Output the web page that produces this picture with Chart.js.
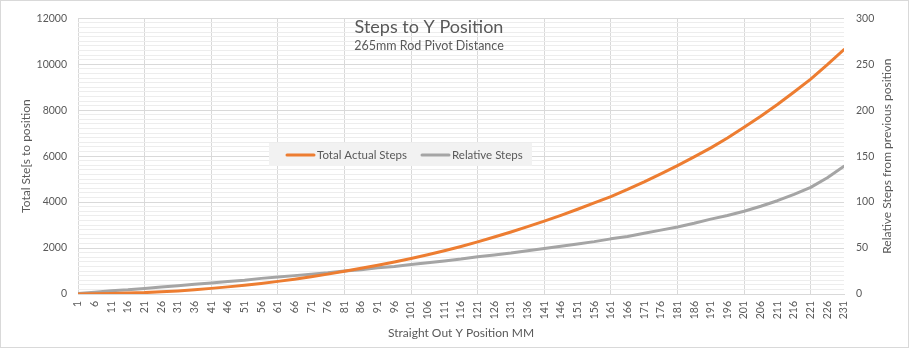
<!DOCTYPE html>
<html>
<head>
<meta charset="utf-8">
<script src="https://cdn.jsdelivr.net/npm/chart.js@4/dist/chart.umd.min.js"></script>
<style>
  html, body { margin: 0; padding: 0; background: #fff; }
  #wrap { width: 911px; height: 348px; }
</style>
</head>
<body>
<div id="wrap"><canvas id="chart" width="911" height="348"></canvas></div>
<script>
// Y position (mm), labelled every 5 on the axis
const positions = [1, 6, 11, 16, 21, 26, 31, 36, 41, 46, 51, 56, 61, 66, 71, 76, 81, 86, 91, 96,
    101, 106, 111, 116, 121, 126, 131, 136, 141, 146, 151, 156, 161, 166, 171, 176, 181, 186, 191, 196,
    201, 206, 211, 216, 221, 226, 231];

const totalSteps = [0, 10, 25, 42, 60, 95, 135, 185, 245, 310, 380, 460, 550, 645, 750, 865, 990, 1120, 1255, 1395,
    1545, 1710, 1885, 2070, 2270, 2480, 2700, 2930, 3170, 3425, 3690, 3965, 4240, 4550, 4880, 5230, 5590, 5965, 6360, 6790,
    7260, 7740, 8250, 8790, 9350, 9980, 10640];

const relativeSteps = [0.5, 2, 3.5, 4.5, 6, 7.5, 9, 10.5, 12, 13.5, 15, 17, 18.5, 20, 21.5, 23, 25, 26.5, 28.5, 30,
    32, 34, 36, 38, 40.5, 42.5, 44.5, 47, 49.5, 52, 54.5, 57, 60, 62.5, 66, 69.5, 73, 77, 81.5, 85.5,
    90, 95.5, 101.5, 108.5, 116, 126.5, 139];

const leftTicks = [0, 2000, 4000, 6000, 8000, 10000, 12000];
const rightTicks = [0, 50, 100, 150, 200, 250, 300];

const FONT = "Lato, 'Open Sans', sans-serif";
const TXT = "#595959";

const overlay = {
    id: "overlay",
    beforeDraw(chart) {
        const ctx = chart.ctx;
        ctx.save();
        ctx.fillStyle = "#fff";
        ctx.fillRect(0, 0, chart.width, chart.height);
        ctx.restore();
    },
    afterDraw(chart) {
        const ctx = chart.ctx;
        const area = chart.chartArea;
        ctx.save();

        // outer frame
        ctx.strokeStyle = "#d9d9d9";
        ctx.lineWidth = 1;
        ctx.strokeRect(0.5, 0.5, chart.width - 3, chart.height - 1);

        // title + subtitle
        ctx.fillStyle = TXT;
        ctx.textAlign = "center";
        ctx.textBaseline = "alphabetic";
        ctx.font = "18px " + FONT;
        ctx.fillText("Steps to Y Position", 429, 33);
        ctx.font = "12.5px " + FONT;
        ctx.fillText("265mm Rod Pivot Distance", 429, 49.5);

        // axis titles
        ctx.font = "12px " + FONT;
        ctx.textBaseline = "middle";
        ctx.fillText("Straight Out Y Position MM", (area.left + area.right) / 2, 333);

        const midY = (area.top + area.bottom) / 2;
        ctx.save();
        ctx.translate(26, midY);
        ctx.rotate(-Math.PI / 2);
        ctx.fillText("Total Ste[s to position", 0, 0);
        ctx.restore();

        ctx.save();
        ctx.translate(887, midY);
        ctx.rotate(-Math.PI / 2);
        ctx.fillText("Relative Steps from previous position", 0, 0);
        ctx.restore();

        // legend
        ctx.fillStyle = "#f2f2f2";
        ctx.fillRect(269, 143, 263, 23);
        ctx.lineCap = "round";
        ctx.lineWidth = 3;
        const items = [
            { x: 287, tx: 317, ds: chart.data.datasets[0] },
            { x: 422, tx: 452, ds: chart.data.datasets[1] }
        ];
        ctx.font = "11.5px " + FONT;
        ctx.textAlign = "left";
        items.forEach(it => {
            ctx.strokeStyle = it.ds.borderColor;
            ctx.beginPath();
            ctx.moveTo(it.x, 155);
            ctx.lineTo(it.x + 27, 155);
            ctx.stroke();
            ctx.fillStyle = TXT;
            ctx.fillText(it.ds.label, it.tx, 155);
        });

        ctx.restore();
    }
};

new Chart(document.getElementById("chart"), {
    type: "line",
    data: {
        datasets: [
            {
                label: "Total Actual Steps",
                data: positions.map((p, i) => ({ x: p, y: totalSteps[i] })),
                borderColor: "#ed7d31",
                borderWidth: 3,
                yAxisID: "y",
                order: 1
            },
            {
                label: "Relative Steps",
                data: positions.map((p, i) => ({ x: p, y: relativeSteps[i] })),
                borderColor: "#a5a5a5",
                borderWidth: 3,
                yAxisID: "y1",
                order: 2
            }
        ]
    },
    options: {
        responsive: false,
        animation: false,
        devicePixelRatio: 1,
        layout: { padding: { top: 7, left: 0, right: 0, bottom: 0 } },
        elements: {
            point: { radius: 0 },
            line: { tension: 0, borderCapStyle: "round", borderJoinStyle: "round" }
        },
        plugins: {
            legend: { display: false },
            title: { display: false },
            tooltip: { enabled: false }
        },
        scales: {
            x: {
                type: "linear",
                min: 1,
                max: 231,
                afterBuildTicks: s => { s.ticks = positions.map(v => ({ value: v })); },
                afterFit: s => { s.height = 54; },
                ticks: {
                    autoSkip: false,
                    minRotation: 90,
                    maxRotation: 90,
                    padding: 7,
                    color: TXT,
                    font: { family: FONT, size: 10.5 },
                    callback: v => String(v)
                },
                grid: {
                    drawTicks: false,
                    color: c => (c.tick && (c.tick.value - 1) % 20 === 0) ? "#d9d9d9" : "rgba(0,0,0,0)"
                },
                border: { display: true, color: "#d9d9d9" }
            },
            y: {
                position: "left",
                min: 0,
                max: 12000,
                afterFit: s => { s.width = 78; },
                ticks: {
                    stepSize: 200,
                    autoSkip: false,
                    padding: 11,
                    color: TXT,
                    font: { family: FONT, size: 10.5 },
                    callback: v => leftTicks.includes(v) ? String(v) : ""
                },
                grid: {
                    drawTicks: false,
                    color: c => (c.tick && leftTicks.includes(c.tick.value)) ? "#d9d9d9" : "#ededed"
                },
                border: { display: false }
            },
            y1: {
                position: "right",
                min: 0,
                max: 300,
                afterFit: s => { s.width = 67; },
                ticks: {
                    stepSize: 50,
                    autoSkip: false,
                    padding: 12,
                    color: TXT,
                    font: { family: FONT, size: 10.5 },
                    callback: v => rightTicks.includes(v) ? String(v) : ""
                },
                grid: { display: false, drawTicks: false },
                border: { display: false }
            }
        }
    },
    plugins: [overlay]
});
</script>
</body>
</html>
